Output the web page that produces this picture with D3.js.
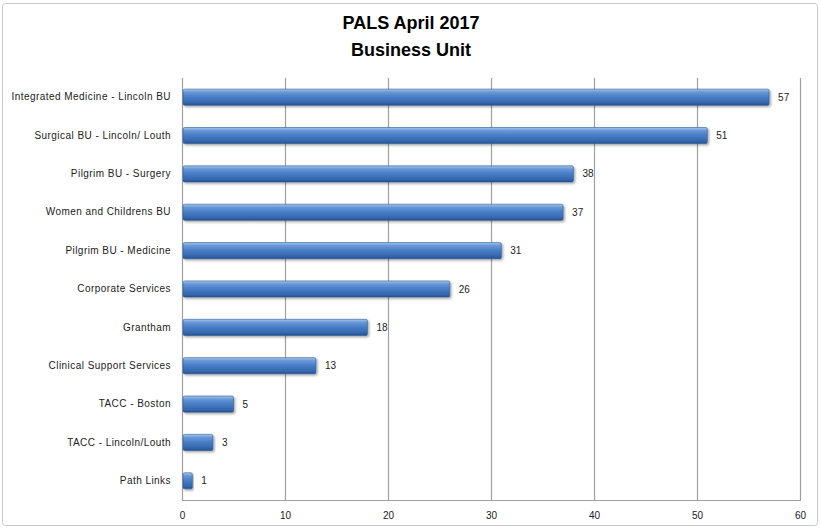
<!DOCTYPE html>
<html>
<head>
<meta charset="utf-8">
<script src="https://cdn.jsdelivr.net/npm/d3@7"></script>
<style>
  html, body { margin: 0; padding: 0; background: #fff; }
  svg { display: block; }
</style>
</head>
<body>
<svg id="chart" width="821" height="529"></svg>
<script>
// PALS contacts per business unit, April 2017
const units = [
  "Integrated Medicine - Lincoln BU",
  "Surgical BU - Lincoln/ Louth",
  "Pilgrim BU - Surgery",
  "Women and Childrens BU",
  "Pilgrim BU - Medicine",
  "Corporate Services",
  "Grantham",
  "Clinical Support Services",
  "TACC - Boston",
  "TACC - Lincoln/Louth",
  "Path Links"
];
const counts = [57, 51, 38, 37, 31, 26, 18, 13, 5, 3, 1];
const xTicks = [0, 10, 20, 30, 40, 50, 60];
const titleLines = ["PALS April 2017", "Business Unit"];

const svg = d3.select("#chart");
const W = 821, H = 529;
const margin = { left: 182, right: 21, top: 78, bottom: 29 };
const font = "'Liberation Sans', Arial, sans-serif";

// outer frame
svg.append("rect")
  .attr("x", 2.5).attr("y", 3.5)
  .attr("width", W - 6).attr("height", H - 7)
  .attr("rx", 3)
  .attr("fill", "#fff").attr("stroke", "#c8c8c8").attr("stroke-width", 1);

const defs = svg.append("defs");
const grad = defs.append("linearGradient")
  .attr("id", "barGrad").attr("x1", 0).attr("y1", 0).attr("x2", 0).attr("y2", 1);
grad.append("stop").attr("offset", "0%").attr("stop-color", "#a9c6ec");
grad.append("stop").attr("offset", "18%").attr("stop-color", "#6a9ad8");
grad.append("stop").attr("offset", "45%").attr("stop-color", "#4a80c8");
grad.append("stop").attr("offset", "85%").attr("stop-color", "#3466ad");
grad.append("stop").attr("offset", "100%").attr("stop-color", "#274f8a");

const filt = defs.append("filter").attr("id", "shadow")
  .attr("x", "-5%").attr("y", "-30%").attr("width", "115%").attr("height", "180%");
filt.append("feDropShadow").attr("dx", 1.5).attr("dy", 1.5).attr("stdDeviation", 1.2)
  .attr("flood-color", "#000").attr("flood-opacity", 0.35);

const x = d3.scaleLinear().domain([0, 60]).range([margin.left, W - margin.right]);
const y = d3.scaleBand().domain(units).range([margin.top, H - margin.bottom])
  .paddingInner(0.58).paddingOuter(0.29);

// title
svg.append("g").selectAll("text").data(titleLines).join("text")
  .attr("x", 411).attr("y", (d, i) => 29 + i * 27)
  .attr("text-anchor", "middle")
  .attr("font-family", font)
  .attr("font-weight", "bold").attr("font-size", 18).attr("fill", "#000")
  .text(d => d);

// vertical gridlines
svg.append("g").selectAll("line").data(xTicks.slice(1)).join("line")
  .attr("x1", d => x(d) + 0.5).attr("x2", d => x(d) + 0.5)
  .attr("y1", margin.top).attr("y2", H - margin.bottom)
  .attr("stroke", "#a0a0a0").attr("stroke-width", 1.2);

// axes lines
svg.append("line")
  .attr("x1", margin.left + 0.5).attr("x2", margin.left + 0.5)
  .attr("y1", margin.top).attr("y2", H - margin.bottom)
  .attr("stroke", "#a0a0a0").attr("stroke-width", 1.2);
svg.append("line")
  .attr("x1", margin.left).attr("x2", W - margin.right + 1)
  .attr("y1", H - margin.bottom + 0.5).attr("y2", H - margin.bottom + 0.5)
  .attr("stroke", "#a0a0a0").attr("stroke-width", 1.2);

// x tick labels
const xAxis = d3.axisBottom(x).tickValues(xTicks).tickSize(0).tickPadding(12);
const gx = svg.append("g").attr("transform", `translate(0,${H - margin.bottom})`).call(xAxis);
gx.select(".domain").remove();
gx.selectAll("text").attr("font-family", font).attr("font-size", 10).attr("fill", "#222");

// category labels
const yAxis = d3.axisLeft(y).tickSize(0).tickPadding(11);
const gy = svg.append("g").attr("transform", `translate(${margin.left},0)`).call(yAxis);
gy.select(".domain").remove();
gy.selectAll("text").attr("font-family", font).attr("font-size", 10)
  .attr("letter-spacing", 0.45).attr("fill", "#222");

// bars
const data = units.map((u, i) => ({ unit: u, value: counts[i] }));
svg.append("g").selectAll("rect").data(data).join("rect")
  .attr("x", x(0) + 1)
  .attr("y", d => y(d.unit))
  .attr("width", d => x(d.value) - x(0) - 1)
  .attr("height", y.bandwidth())
  .attr("rx", 1.5)
  .attr("fill", "url(#barGrad)")
  .attr("stroke", "#2a5a9a").attr("stroke-width", 0.6)
  .attr("filter", "url(#shadow)");

// value labels
svg.append("g").selectAll("text").data(data).join("text")
  .attr("x", d => x(d.value) + 9)
  .attr("y", d => y(d.unit) + y.bandwidth() / 2)
  .attr("dy", "0.35em")
  .attr("font-family", font).attr("font-size", 10).attr("fill", "#222")
  .text(d => d.value);
</script>
</body>
</html>
